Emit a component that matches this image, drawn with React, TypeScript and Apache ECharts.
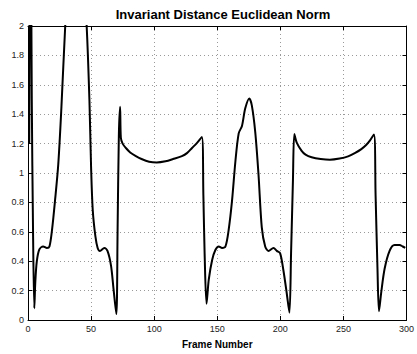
import React, { useEffect, useRef } from "react";
import * as echarts from "echarts";

const titleText = "Invariant Distance Euclidean Norm";
const xAxisName = "Frame Number";

const frames = [
  1, 2, 3, 4, 5, 5.8, 7, 9, 12, 15, 17, 19, 21.5, 24, 26.5, 29.5, 33, 38, 43, 46.5,
  48.7, 50, 51.3, 53.4, 55.2, 57, 60.5, 63, 65.8, 67.8, 70, 71, 72, 73, 73.6, 75,
  77.6, 81, 85.5, 90, 96, 102, 109, 115, 122, 126, 130, 134, 137.8, 139, 140, 141.5,
  143.3, 146, 148.6, 151.2, 153.8, 156.5, 159, 161.7, 164.4, 167, 169.6, 172.2, 175.4,
  177.4, 180.1, 182.7, 185.3, 188, 190.6, 194.6, 197.2, 199.8, 202.4, 205, 207.2,
  208.5, 210, 211.1, 213, 216.9, 220, 224.8, 232, 239.3, 247, 253.7, 259, 264.2, 268,
  270.8, 274.2, 275.5, 277, 278.2, 280, 282.7, 286.6, 290.5, 294.5, 297, 299,
];

const distance = [
  1.2, 3.0, 1.5, 0.6, 0.08, 0.26, 0.4, 0.48, 0.5, 0.49, 0.5, 0.61, 0.82, 1.06, 1.45, 2.0, 2.5, 2.75, 2.5, 2.0,
  1.49, 1.04, 0.75, 0.57, 0.49, 0.47, 0.49, 0.47, 0.37, 0.21, 0.04, 0.6, 1.25, 1.45, 1.24, 1.2,
  1.17, 1.14, 1.115, 1.095, 1.077, 1.072, 1.08, 1.095, 1.115, 1.135, 1.17, 1.205, 1.245, 0.85, 0.45, 0.11,
  0.276, 0.41, 0.478, 0.5, 0.49, 0.5, 0.61, 0.81, 1.08, 1.27, 1.32, 1.44, 1.507,
  1.46, 1.28, 0.99, 0.63, 0.5, 0.47, 0.49, 0.47, 0.455, 0.34, 0.187, 0.05,
  0.45, 0.95, 1.265, 1.207, 1.151, 1.125, 1.107, 1.095, 1.09, 1.098, 1.113, 1.135, 1.162, 1.19,
  1.218, 1.262, 0.85, 0.35, 0.06, 0.19, 0.35, 0.47, 0.51, 0.51, 0.5, 0.49,
];

const font = "Liberation Sans, Arial, Helvetica, sans-serif";

export default function App() {
  const ref = useRef<HTMLDivElement>(null);
  useEffect(() => {
    if (!ref.current) return;
    const chart = echarts.init(ref.current, undefined, { renderer: "svg" });
    const lineStyle = { color: "#000", width: 1 };
    const tick = { show: true, inside: true, length: 4, lineStyle: { color: "#000" } };
    const split = { show: true, lineStyle: { color: "#999", type: [1, 3] as any, width: 1 } };
    chart.setOption({
      animation: false,
      backgroundColor: "#fff",
      title: {
        text: titleText,
        left: 218,
        textAlign: "center",
        top: 3,
        textStyle: { fontFamily: font, fontWeight: "bold", fontSize: 13, color: "#000" },
      },
      grid: { left: 28, right: 8.5, top: 26, bottom: 29.5, containLabel: false },
      xAxis: [
        {
          type: "value",
          min: 0,
          max: 300,
          interval: 50,
          name: xAxisName,
          nameLocation: "middle",
          nameGap: 19,
          nameTextStyle: { fontFamily: font, fontWeight: "bold", fontSize: 10, color: "#000" },
          axisLine: { show: true, lineStyle },
          axisTick: tick,
          axisLabel: { fontFamily: font, fontSize: 9, color: "#222", margin: 4 },
          splitLine: split,
        },
        {
          type: "value",
          position: "top",
          min: 0,
          max: 300,
          interval: 50,
          axisLine: { show: true, onZero: false, lineStyle },
          axisTick: tick,
          axisLabel: { show: false },
          splitLine: { show: false },
        },
      ],
      yAxis: [
        {
          type: "value",
          min: 0,
          max: 2,
          interval: 0.2,
          axisLine: { show: true, lineStyle },
          axisTick: tick,
          axisLabel: { fontFamily: font, fontSize: 9, color: "#222", margin: 4 },
          splitLine: split,
        },
        {
          type: "value",
          position: "right",
          min: 0,
          max: 2,
          interval: 0.2,
          axisLine: { show: true, onZero: false, lineStyle },
          axisTick: tick,
          axisLabel: { show: false },
          splitLine: { show: false },
        },
      ],
      series: [
        {
          type: "line",
          xAxisIndex: 0,
          yAxisIndex: 0,
          data: frames.map((f, i) => [f, distance[i]]),
          showSymbol: false,
          symbol: "none",
          clip: true,
          smooth: 0.3,
          lineStyle: { color: "#000", width: 2 },
        },
      ],
    });
    return () => chart.dispose();
  }, []);
  return (
    <div
      ref={ref}
      style={{ position: "fixed", left: 0, top: 0, width: 417, height: 354, background: "#fff" }}
    />
  );
}
